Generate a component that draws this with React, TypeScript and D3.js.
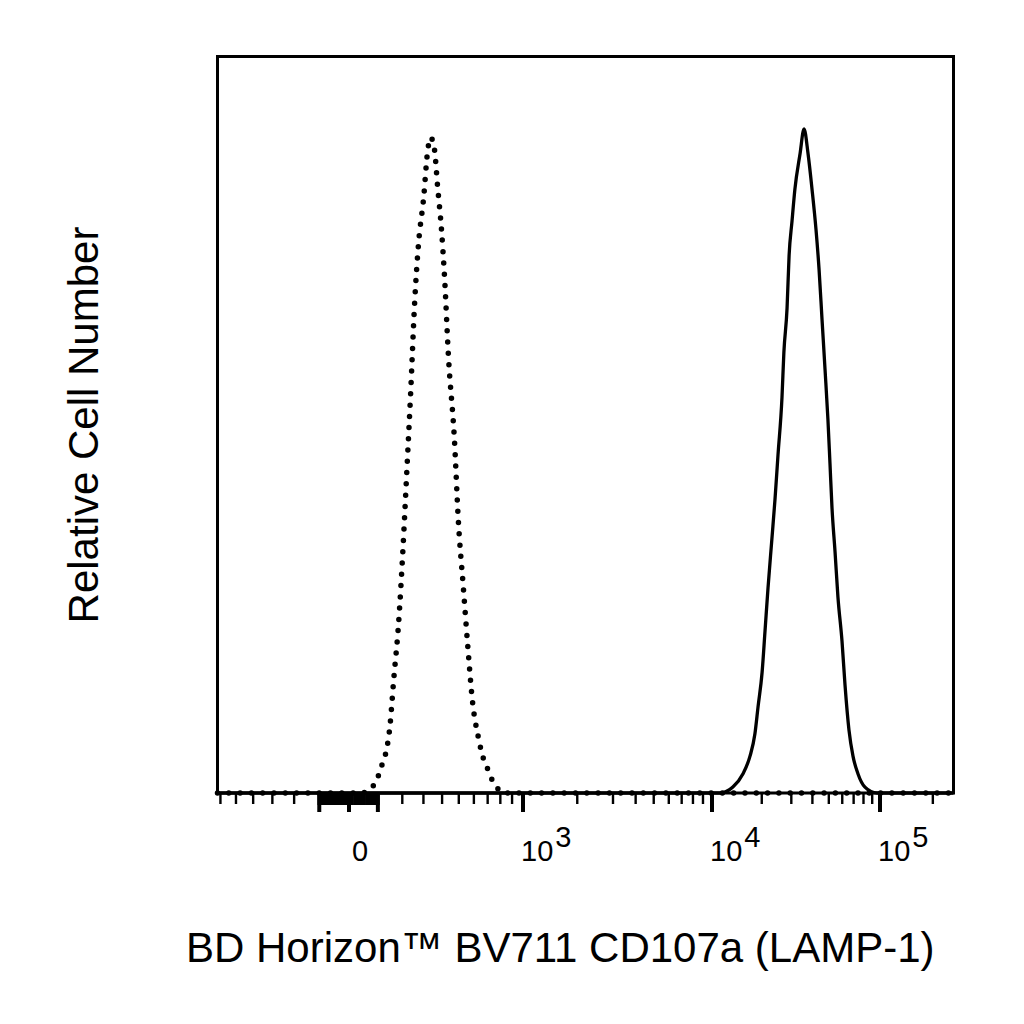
import React, { useRef, useEffect } from "react";
import * as d3 from "d3";

// isotype control (dotted)
const isotypeIntensity = [
  -620, 0, 39, 67, 92, 107, 119, 135, 147, 163, 184, 202, 220, 238, 257, 276, 301, 321, 337,
  358, 374, 397, 414, 437, 473, 497, 529, 562, 589, 631, 667, 697, 727, 774, 840, 262144,
];
const isotypeCount = [
  0, 0, 0, 0.5, 1.7, 3.2, 4.7, 6.8, 10.0, 17.2, 25.9, 36.5, 48.7, 60.9, 74.7, 83.7, 90.5, 97.5, 99.7,
  97.8, 92.5, 85.5, 78.5, 66.3, 53.7, 41.5, 31.3, 21.3, 14.2, 8.5, 5.3, 3.8, 2.3, 0.8, 0, 0,
];

// CD107a stained cells (solid)
const stainedIntensity = [
  -620, 11200, 13400, 15400, 17000, 18200, 19000, 20100, 20900, 21800, 23000, 24000, 25000, 26400,
  27100, 28300, 29100, 30300, 31500, 33800, 35700, 37700, 39800, 42000, 43800, 45600, 47500, 49400,
  50800, 52200, 54400, 56600, 59800, 62300, 65700, 69400, 74300, 81600, 96000, 262144,
];
const stainedCount = [
  0, 0, 0.9, 2.9, 5.6, 9.0, 13.1, 18.4, 24.5, 31.2, 38.7, 44.7, 51.4, 60.1,
  67.0, 73.7, 81.7, 87.0, 91.8, 97.2, 101, 97.2, 91.8, 85.7, 79.6, 72.0, 64.4, 56.8,
  50.1, 43.4, 36.7, 29.8, 23.1, 16.4, 9.6, 5.6, 2.9, 0.9, 0, 0,
];

const majorTicks = [0, 1000, 10000, 100000];
const majorBase = ["0", "10", "10", "10"];
const majorExp = ["", "3", "4", "5"];
const minorTicks = [
  -600, -500, -400, -300, -200,
  200, 300, 400, 500, 600, 700, 800, 900,
  2000, 3000, 4000, 5000, 6000, 7000, 8000, 9000,
  20000, 30000, 40000, 50000, 60000, 70000, 80000, 90000,
  200000,
];
// dense ticks around zero
const zeroTicks = d3.range(-100, 101, 10);
const midTicks = [-100, 100];

const xTitle = "BD Horizon™ BV711 CD107a (LAMP-1)";
const yTitle = "Relative Cell Number";

const App = () => {
  const node: any = useRef();

  useEffect(() => {
    const svg = d3.select(node.current);
    svg.selectAll("*").remove();

    const left = 217.5, right = 953.5, top = 56.5, bottom = 793;
    const font = "'Liberation Sans', Arial, sans-serif";

    // biexponential-like display: piecewise symlog through the decade anchors
    const x = d3
      .scaleSymlog()
      .constant(500)
      .domain([-620, 0, 1000, 3000, 10000, 100000, 262144])
      .range([left, 349, 523, 613, 712, 880, right]);
    const y = d3.scaleLinear().domain([0, 112]).range([bottom, top]);

    const line = d3
      .line<number>()
      .x((d: number) => x(d))
      .curve(d3.curveMonotoneX);

    // frame
    svg
      .append("rect")
      .attr("x", left)
      .attr("y", top)
      .attr("width", right - left)
      .attr("height", bottom - top)
      .attr("fill", "none")
      .attr("stroke", "#000")
      .attr("stroke-width", 3);

    // ticks
    const tickG = svg.append("g").attr("stroke", "#000");
    const addTicks = (values: number[], len: number, w: number) =>
      tickG
        .append("g")
        .selectAll("line")
        .data(values)
        .enter()
        .append("line")
        .attr("x1", (d: number) => x(d))
        .attr("x2", (d: number) => x(d))
        .attr("y1", bottom)
        .attr("y2", bottom + len)
        .attr("stroke-width", w);
    addTicks(minorTicks, 11, 2.4);
    addTicks(zeroTicks, 12, 3.6);
    addTicks(midTicks, 19, 4);
    addTicks(majorTicks, 19, 4);

    // tick labels
    const labels = svg
      .append("g")
      .selectAll("text")
      .data(majorTicks)
      .enter()
      .append("text")
      .attr("x", (d: number, i: number) => x(d) + (i === 0 ? 3 : -2))
      .attr("y", 861)
      .attr("font-family", font)
      .attr("font-size", 29)
      .attr("fill", "#000");
    labels.append("tspan").text((_: number, i: number) => majorBase[i]);
    labels
      .append("tspan")
      .attr("dx", 2)
      .attr("dy", -14)
      .text((_: number, i: number) => majorExp[i]);

    // histograms
    svg
      .append("path")
      .attr(
        "d",
        line.y((_: number, i: number) => y(isotypeCount[i]))(isotypeIntensity)
      )
      .attr("fill", "none")
      .attr("stroke", "#000")
      .attr("stroke-width", 5.5)
      .attr("stroke-linecap", "round")
      .attr("stroke-dasharray", "0 11.3");
    svg
      .append("path")
      .attr(
        "d",
        line.y((_: number, i: number) => y(stainedCount[i]))(stainedIntensity)
      )
      .attr("fill", "none")
      .attr("stroke", "#000")
      .attr("stroke-width", 3.3)
      .attr("stroke-linejoin", "round");

    // axis titles
    svg
      .append("text")
      .attr("x", 186)
      .attr("y", 962)
      .attr("font-family", font)
      .attr("font-size", 42)
      .attr("fill", "#000")
      .text(xTitle);
    svg
      .append("text")
      .attr("transform", "translate(98,425)rotate(-90)")
      .attr("text-anchor", "middle")
      .attr("font-family", font)
      .attr("font-size", 42)
      .attr("fill", "#000")
      .text(yTitle);
  }, []);

  return (
    <svg
      ref={node}
      width={1024}
      height={1024}
      style={{ position: "absolute", left: 0, top: 0, background: "#fff" }}
    ></svg>
  );
};

export default App;
